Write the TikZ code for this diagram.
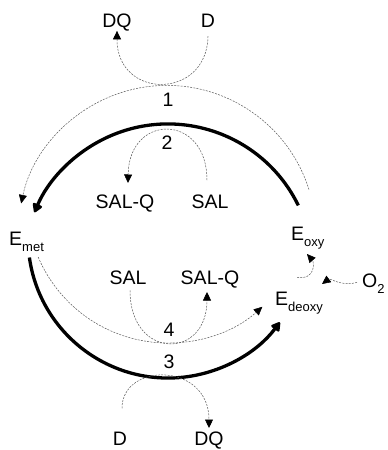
\documentclass[tikz,border=0pt]{standalone}
\usepackage{fontspec}
\setmainfont{Liberation Sans}
\usetikzlibrary{arrows.meta}
\newcommand{\lowsub}[1]{\raisebox{-0.32em}{\fontsize{13}{13}\selectfont #1}}
\begin{document}
\begin{tikzpicture}[x=1pt,y=-1pt,
  lab/.style={inner sep=0pt,anchor=base,font=\fontsize{19.5}{22}\selectfont},
  thin/.style={draw=black!65,line width=0.5pt,dash pattern=on 2pt off 1.2pt},
  thinarr/.style={thin,-{Triangle[length=8.5pt,width=8pt,black]}},
  heavy/.style={draw=black,line width=3.3pt},
  heavyarr/.style={heavy,-{Triangle[length=10pt,width=11pt,round]}}]
\useasboundingbox (0,0) rectangle (388,450);
% labels
\node[lab] (DQt) at (117,27) {DQ};
\node[lab] (Dt) at (208,27) {D};
\node[lab] (n1) at (168,106) {1};
\node[lab] (n2) at (167,149) {2};
\node[lab] (SALQu) at (125,208) {SAL-Q};
\node[lab] (SALu) at (210,208) {SAL};
\node[lab,anchor=base west] (Emet) at (9,245) {E\lowsub{met}};
\node[lab,anchor=base west] (Eoxy) at (291,240) {E\lowsub{oxy}};
\node[lab] (SALl) at (128,284) {SAL};
\node[lab] (SALQl) at (210,284) {SAL-Q};
\node[lab,anchor=base west] (O2) at (362,287) {O\lowsub{2}};
\node[lab,anchor=base west] (Edeoxy) at (275,305) {E\lowsub{deoxy}};
\node[lab] (n4) at (169,336) {4};
\node[lab] (n3) at (169,368) {3};
\node[lab] (Db) at (120,445) {D};
\node[lab] (DQb) at (209,445) {DQ};
% connector end points
\coordinate (a2s) at (298.3,205.4);
\coordinate (a1s) at (309,189.6);
\coordinate (a3s) at (29.4,257.5);
\coordinate (a4s) at (38.2,257.1);
% big arcs
\draw[thinarr] (a1s) arc[start angle=-17.5,end angle=-168,radius=149];
\draw[heavyarr] (a2s) arc[start angle=-26,end angle=-157,radius=145];
\draw[heavyarr] (a3s) arc[start angle=172,end angle=37,radius=140];
\draw[thinarr] (a4s) arc[start angle=157,end angle=48,radius=141];
% small arcs
\draw[thinarr] (Dt.south) ++(0,9) .. controls (207,100) and (117,100) .. (DQt.south);
\draw[thinarr] (SALu.north) ++(-3,-14) .. controls (207,113) and (129,113) .. (128,183);
\draw[thinarr] (SALl.south) ++(2,6) .. controls (130,360) and (207,360) .. (207,292);
\draw[thinarr] (Db.north) ++(2,-23) .. controls (122,362) and (209,362) .. (209,428);
% oxygen
\draw[thinarr] (Edeoxy.north) ++(-2,-14) .. controls (316,280) and (314,262) .. (307,254);
\draw[thinarr] (O2.west) ++(-5,-1) .. controls (342,287) and (330,278) .. (322,284);
\end{tikzpicture}
\end{document}
